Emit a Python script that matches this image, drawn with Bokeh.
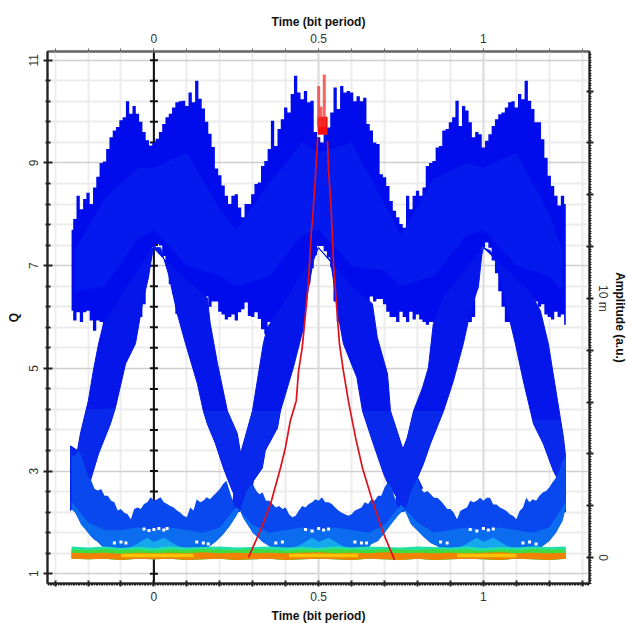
from bokeh.plotting import figure
from bokeh.models import Range1d, LinearAxis, FixedTicker, Grid
from bokeh.embed import file_html
from bokeh.resources import INLINE
import numpy as np

# ---- eye diagram envelopes (t in bit periods, Q) ----
rail_top = [7.7,7.91,8.36,8.1,8.3,8.42,8.2,8.52,8.73,9.0,
 9.03,9.27,9.5,9.63,9.7,9.83,9.89,10.2,9.96,10.11,
 9.96,9.8,9.6,9.44,9.34,9.4,9.47,9.6,9.76,9.89,
 9.96,10.08,10.18,10.2,10.21,10.11,10.37,10.18,10.6,10.25,
 10.06,9.8,9.57,9.31,8.89,8.76,8.56,8.36,8.2,8.36,
 8.39,8.13,7.94,8.2,8.2,8.39,8.59,8.62,8.94,9.04,
 9.27,9.82,9.33,9.66,9.85,10.08,9.98,10.34,10.7,10.37,
 10.24,10.4,10.18,10.21,9.6,9.5,9.4,9.56,9.69,9.98,
 10.47,10.05,10.5,10.37,10.4,10.37,10.2,10.3,10.2,10.27,
 9.76,9.63,9.4,9.37,8.78,8.72,8.55,8.26,8.07,7.94,
 7.81,7.74,8.36,8.1,8.36,8.46,8.36,8.52,8.94,9.0,
 9.04,9.3,9.33,9.63,9.66,9.79,9.89,10.21,9.72,10.11,
 10.02,9.79,9.5,9.6,9.56,9.3,9.43,9.56,9.72,9.85,
 9.95,9.98,10.08,10.18,10.2,10.08,10.34,10.24,10.6,10.21,
 10.05,9.79,9.79,9.46,9.1,8.75,8.55,8.36,8.17,8.36,8.2]
rail_bot = [6.12,5.93,6.09,5.9,6.09,6.12,5.93,5.73,5.93,5.9,
 5.8,5.9,5.9,5.9,5.9,5.9,5.9,5.9,5.9,5.9,
 5.95,6.0,6.25,6.77,7.19,7.36,7.42,7.39,7.19,7.03,
 6.64,6.45,6.06,6.0,6.0,6.0,6.0,6.0,6.0,6.0,
 6.0,6.4,6.2,6.3,6.3,6.1,6.05,5.95,6.0,6.05,
 5.93,6.09,6.15,6.28,6.02,6.0,6.09,5.96,5.76,5.67,
 5.9,5.9,5.9,5.9,5.9,5.9,5.9,5.9,5.9,5.9,
 5.9,6.2,6.65,6.95,7.2,7.38,7.38,7.28,7.16,6.97,
 6.3,5.9,5.9,5.9,5.9,5.9,5.9,5.9,5.9,5.9,
 6.3,6.4,6.3,6.35,6.35,6.25,6.1,6.0,6.0,5.9,
 6.1,6.0,5.9,6.1,5.95,6.05,5.95,5.9,5.85,5.9,
 5.9,5.9,5.9,5.9,5.9,5.9,5.9,5.9,5.9,5.9,
 5.9,5.9,6.0,6.55,7.15,7.35,7.45,7.35,7.1,6.85,
 6.5,6.2,5.9,5.9,5.9,5.9,5.9,5.9,5.9,6.4,
 6.35,6.3,6.2,6.25,6.05,6.0,5.95,6.1,6.0,6.05,5.85]

# slightly brighter core of the upper rail
glow_t = [-.24,-.15,-.05,0.0,.1,.2,.25,.35,.45,.5,.6,.7,.75,.85,.95,1.0,1.1,1.2,1.24]
glow_top = [7.3,8.3,8.9,8.9,9.2,8.1,7.7,8.6,9.4,9.2,9.4,8.2,7.6,8.7,9.0,8.9,9.2,8.0,7.3]
glow_bot = [6.5,6.6,7.5,7.7,7.0,6.8,6.6,6.8,7.6,7.7,7.0,6.9,6.6,6.8,7.6,7.7,7.0,6.8,6.5]

# the crossing traces (outlines: t, Q)
r1_t = [-.253,-.232,-.223,-.199,-.184,-.168,-.153,-.011,-.002,-.017,-.035,-.056,-.086,-.117,-.132,-.168,-.193,-.253]
r1_q = [3.49,3.40,3.73,4.37,4.95,5.48,5.87,7.29,7.35,6.76,6.26,5.48,5.09,4.23,3.92,3.34,2.81,2.23]
f1_t = [-.002,.02,.044,.071,.096,.132,.150,.162,.187,.211,.226,.263,.299,.263,.253,.223,.193,.171,.162,.05]
f1_q = [7.35,7.35,6.84,6.06,5.48,4.70,4.17,3.92,3.53,3.06,2.81,2.23,2.71,3.34,3.73,4.17,5.09,5.87,6.37,7.0]
r2_t = [.232,.263,.299,.332,.344,.399,.499,.484,.466,.454,.423,.384,.375,.338,.329,.302,.299,.263]
r2_q = [2.13,3.34,4.17,5.48,5.79,6.32,7.35,7.10,6.45,5.79,5.01,4.17,3.84,3.40,3.06,2.81,2.71,2.23]
f2_t = [.499,.536,.545,.557,.575,.616,.633,.666,.697,.709,.763,.79,.757,.718,.709,.678,.663,.60]
f2_q = [7.35,7.10,6.71,6.12,5.48,4.82,4.17,3.53,2.95,2.77,2.23,2.8,3.40,4.17,4.89,5.60,6.26,6.6]
r3_t = [.73,.754,.769,.788,.815,.833,.848,.88,1.0,.995,.985,.961,.939,.909,.879,.839,.818,.800,.815,.76]
r3_q = [2.2,3.40,3.65,4.17,4.62,5.01,5.87,6.4,7.35,7.2,6.6,6.12,5.48,4.76,4.17,3.53,3.14,2.87,2.67,2.23]
f3_t = [1.0,1.021,1.036,1.061,1.073,1.097,1.121,1.152,1.182,1.212,1.225,1.249,1.249,1.243,1.225,1.197,1.173,1.14]
f3_q = [7.35,7.29,7.10,6.5,6.12,5.48,4.76,3.92,3.53,3.01,2.85,2.2,3.30,3.65,4.37,5.48,6.12,6.5]

# their lower, brighter parts
low1_t = [-.253,-.232,-.223,-.204,-.117,-.132,-.168,-.193,-.253]
low1_q = [3.49,3.40,3.73,4.2,4.23,3.92,3.34,2.81,2.23]
low2_t = [.150,.162,.187,.211,.226,.263,.299,.263,.253,.223]
low2_q = [4.17,3.92,3.53,3.06,2.81,2.23,2.71,3.34,3.73,4.17]
low3_t = [.232,.263,.299,.384,.375,.338,.329,.302,.299,.263]
low3_q = [2.13,3.34,4.17,4.17,3.84,3.40,3.06,2.81,2.71,2.23]
low4_t = [.633,.666,.697,.709,.763,.79,.757,.718]
low4_q = [4.17,3.53,2.95,2.77,2.23,2.8,3.40,4.17]
low5_t = [.73,.754,.769,.788,.879,.839,.818,.800,.815,.76]
low5_q = [2.2,3.40,3.65,4.17,4.17,3.53,3.14,2.87,2.67,2.23]
low6_t = [1.15,1.182,1.212,1.225,1.249,1.249,1.243,1.23]
low6_q = [4.0,3.53,3.01,2.85,2.2,3.30,3.65,4.0]

# the arches above the low rail
arch_top = [3.3,3.3,3.4,3.3,3.1,2.9,
 2.81,2.65,2.62,2.65,2.52,2.52,2.42,2.39,2.23,2.26,2.19,2.16,2.06,2.26,2.29,2.26,2.36,2.39,2.49,2.42,2.45,
 2.49,2.39,2.36,2.32,2.29,2.23,2.19,2.13,2.10,2.29,2.23,2.45,2.39,2.42,2.49,2.45,2.52,2.58,2.65,2.75,2.81,
 2.6,2.4,2.2,2.2,2.4,2.6,2.7,2.75,
 2.62,2.55,2.58,2.42,2.42,2.36,2.29,2.32,2.26,2.29,2.16,2.10,2.13,2.23,2.32,2.29,2.36,2.39,2.45,2.42,2.49,
 2.39,2.39,2.36,2.29,2.23,2.19,2.16,2.13,2.16,2.23,2.26,2.29,2.39,2.36,2.45,2.42,2.52,2.52,2.68,2.78,
 2.7,2.5,2.3,2.2,2.2,2.4,2.6,2.75,
 2.87,2.65,2.58,2.61,2.55,2.48,2.48,2.42,2.35,2.26,2.26,2.19,2.06,2.22,2.26,2.29,2.42,2.39,2.42,2.48,2.42,
 2.48,2.48,2.35,2.35,2.29,2.26,2.22,2.16,2.13,2.06,2.22,2.29,2.48,2.39,2.45,2.42,2.52,2.58,2.61,2.68,2.78,2.87,
 3.0,3.2,3.3]
arch_bot_t = [-.25,-.24,-.23,-.22,-.21,-.20,-.19,-.18,-.17,-.16,-.15,-.13,.15,.17,.19,.21,.23,.25,.26,.27,.28,.29,.30,.31,.32,.33,.34,.35,.37,.64,.66,.68,.70,.72,.74,.76,.78,.80,.82,.84,.86,.88,1.16,1.18,1.20,1.22,1.24,1.25]
arch_bot_q = [2.25,2.2,2.08,1.95,1.88,1.8,1.72,1.66,1.62,1.55,1.5,1.42,1.42,1.54,1.64,1.77,1.93,2.13,2.26,2.1,2.0,1.9,1.8,1.74,1.68,1.62,1.58,1.54,1.42,1.42,1.58,1.64,1.8,1.97,2.13,2.26,1.97,1.84,1.71,1.6,1.54,1.42,1.42,1.54,1.64,1.8,2.03,2.29]
mid_t = [-.25,-.2,-.15,-.1,-.05,0,.05,.1,.15,.2,.25,.3,.35,.4,.45,.5,.55,.6,.65,.7,.75,.8,.85,.9,.95,1.0,1.05,1.1,1.15,1.2,1.25]
mid_q = [2.4,2.0,1.85,1.85,1.9,1.85,1.9,1.85,1.8,1.9,2.3,1.95,1.8,1.85,1.9,1.85,1.9,1.85,1.8,1.95,2.35,2.0,1.8,1.85,1.9,1.85,1.9,1.85,1.8,1.9,2.4]
cyan_t = [[-.11,-.06,-.02,0,.03,.07,.13],[.39,.44,.48,.5,.53,.57,.63],[.89,.94,.98,1.0,1.03,1.07,1.13]]
cyan_q = [[1.42,1.55,1.7,1.62,1.7,1.55,1.42],[1.42,1.55,1.7,1.62,1.7,1.55,1.42],[1.42,1.55,1.7,1.62,1.7,1.55,1.42]]
speck_t = [-.03,-.015,0,.015,.03,.04,.46,.48,.5,.515,.53,.96,.98,1.0,1.015,1.03,-.12,-.10,-.085,.13,.15,.165,.37,.39,.61,.63,.645,.87,.89,1.12,1.14,1.16]
speck_q = [1.87,1.84,1.86,1.88,1.85,1.88,1.86,1.83,1.88,1.85,1.87,1.86,1.83,1.88,1.85,1.87,1.6,1.62,1.6,1.62,1.6,1.58,1.6,1.62,1.62,1.6,1.6,1.62,1.6,1.6,1.62,1.58]

# the low rail
low_t = [-.25,-.2,-.15,-.1,-.05,0,.05,.1,.15,.2,.25,.3,.35,.4,.45,.5,.55,.6,.65,.7,.75,.8,.85,.9,.95,1.0,1.05,1.1,1.15,1.2,1.25]
teal_q = [1.53,1.51,1.53,1.50,1.52,1.50,1.53,1.51,1.52,1.53,1.51,1.52,1.53,1.51,1.52,1.50,1.53,1.51,1.53,1.52,1.51,1.53,1.52,1.51,1.53,1.50,1.52,1.51,1.53,1.52,1.53]
green_q = [1.47,1.46,1.48,1.46,1.47,1.45,1.47,1.46,1.48,1.47,1.46,1.48,1.47,1.45,1.47,1.46,1.48,1.47,1.46,1.48,1.47,1.46,1.48,1.46,1.47,1.45,1.47,1.46,1.48,1.47,1.47]
orange_q = [1.41,1.40,1.41,1.39,1.41,1.40,1.41,1.40,1.42,1.40,1.41,1.40,1.41,1.40,1.41,1.42,1.40,1.41,1.40,1.42,1.40,1.41,1.40,1.41,1.40,1.41,1.42,1.40,1.41,1.40,1.41]
floor_q = [1.29,1.28,1.29,1.27,1.29,1.28,1.29,1.27,1.28,1.29,1.27,1.28,1.29,1.27,1.28,1.29,1.28,1.27,1.29,1.28,1.27,1.29,1.27,1.28,1.29,1.28,1.27,1.29,1.28,1.27,1.29]
yellow_from = [-.10,.41,.92]
yellow_to = [.12,.62,1.10]
yellow_top = [1.39,1.39,1.39]
yellow_bot = [1.32,1.32,1.32]

# red trace
red_up_t = [.287,.323,.354,.384,.399,.414,.432,.439,.45,.46,.469,.475,.478,.481,.49,.497]
red_up_q = [1.32,1.84,2.36,3.06,3.45,3.98,4.37,4.95,5.40,6.06,6.71,7.35,7.68,7.87,8.71,9.49]
red_down_t = [.527,.53,.536,.542,.545,.554,.563,.575,.59,.612,.633,.663,.697,.73]
red_down_q = [9.43,8.85,8.32,7.54,7.04,6.26,5.48,4.95,4.37,3.65,3.06,2.42,1.78,1.27]
red_block_t = [.497,.527]
red_block_q = [9.55,9.9]
red_spike_t = [.50,.507,.517]
red_spike_q = [10.5,10.1,10.72]

q_major = [1,3,5,7,9,11]
q_minor = [1.4,1.8,2.2,2.6,3.4,3.8,4.2,4.6,5.4,5.8,6.2,6.6,7.4,7.8,8.2,8.6,9.4,9.8,10.2,10.6]
t_tenths = [-.3,-.2,-.1,0,.1,.2,.3,.4,.5,.6,.7,.8,.9,1,1.1,1.2,1.3]
t_major = [0,.5,1]
amp_ticks = [0,2,4,6,8,10,12,14,16,18]

p = figure(frame_width=542, frame_height=532, output_backend="svg", toolbar_location=None,
           x_range=Range1d(-.323, 1.322), y_range=Range1d(.81, 11.17),
           x_axis_location=None, y_axis_location=None,
           min_border_left=47, min_border_right=0, min_border_top=51, min_border_bottom=0)
p.background_fill_color = "white"
p.outline_line_color = "#555555"
p.outline_line_width = 2
p.xgrid.visible = False
p.ygrid.visible = False

minor_col = "#ececec"
major_col = "#cfcfcf"
p.add_layout(Grid(dimension=0, ticker=FixedTicker(ticks=t_tenths), grid_line_color=minor_col, grid_line_width=2))
p.add_layout(Grid(dimension=1, ticker=FixedTicker(ticks=q_minor), grid_line_color=minor_col, grid_line_width=2))
p.add_layout(Grid(dimension=1, ticker=FixedTicker(ticks=q_major), grid_line_color=major_col, grid_line_width=1.5))
p.add_layout(Grid(dimension=0, ticker=FixedTicker(ticks=t_major), grid_line_color="#dddddd", grid_line_width=2))

font = "Liberation Sans"
def style(ax, tick_col="#222222"):
    ax.axis_label_text_font = font
    ax.axis_label_text_font_style = "bold"
    ax.axis_label_text_font_size = "12px"
    ax.axis_label_text_color = "#111111"
    ax.major_label_text_font = font
    ax.major_label_text_font_size = "12px"
    ax.major_label_text_color = "#333333"
    ax.axis_line_color = tick_col
    ax.axis_line_width = 2
    ax.major_tick_line_color = tick_col
    ax.minor_tick_line_color = tick_col

left = LinearAxis(axis_label="Q", ticker=FixedTicker(ticks=q_major, minor_ticks=q_minor))
style(left)
left.major_label_orientation = "vertical"
left.major_tick_in, left.major_tick_out = 5, 4
left.minor_tick_in, left.minor_tick_out = 3, 2
left.major_tick_line_width = 2
left.minor_tick_line_width = 2
left.axis_label_standoff = 6
p.add_layout(left, "left")

top = LinearAxis(axis_label="Time (bit period)", ticker=FixedTicker(ticks=t_major, minor_ticks=t_tenths))
style(top, "#666666")
top.major_tick_in, top.major_tick_out = 0, 3
top.minor_tick_in, top.minor_tick_out = 0, 3
top.major_label_standoff = 6
top.axis_label_standoff = 2
p.add_layout(top, "above")

bottom = LinearAxis(axis_label="Time (bit period)",
                    ticker=FixedTicker(ticks=t_tenths, minor_ticks=[(k - 64) * .005 for k in range(329)]))
style(bottom)
bottom.major_label_overrides = {v: ("" if v not in t_major else str(v)) for v in t_tenths}
bottom.major_tick_in, bottom.major_tick_out = 3, 3
bottom.minor_tick_in, bottom.minor_tick_out = 0, 2
bottom.major_tick_line_width = 2
bottom.major_label_standoff = 5
bottom.axis_label_standoff = 5
p.add_layout(bottom, "below")

p.extra_y_ranges = {"amp": Range1d(-1.0, 19.53)}
right = LinearAxis(y_range_name="amp", axis_label="Amplitude (a.u.)",
                   ticker=FixedTicker(ticks=amp_ticks, minor_ticks=[k * .1 for k in range(-10, 195)]))
style(right)
right.major_label_overrides = {v: {0: "0", 10: "10 m"}.get(v, "") for v in amp_ticks}
right.major_label_orientation = "vertical"
right.major_tick_in, right.major_tick_out = 3, 4
right.minor_tick_in, right.minor_tick_out = 0, 2
right.major_tick_line_width = 2
right.major_label_standoff = 2
right.axis_label_standoff = 0
p.add_layout(right, "right")

# zero axis with its own ticks
p.segment(x0=[0], y0=[.81], x1=[0], y1=[11.17], line_color="#111111", line_width=2)
p.scatter(x=[0] * len(q_major + q_minor), y=q_major + q_minor, marker="dash", size=8,
          line_color="#111111", line_width=2)

# upper rail
rail_t = np.linspace(-.25, 1.25, len(rail_top))
band_col = "#0416ea"
p.varea_step(x=rail_t, y1=rail_bot, y2=rail_top, step_mode="center", fill_color="#000cec")
p.varea(x=glow_t, y1=glow_bot, y2=glow_top, fill_color="#0a2cf0", fill_alpha=.4)

# crossing traces
for xs, ys in [(r1_t, r1_q), (f1_t, f1_q), (r2_t, r2_q), (f2_t, f2_q), (r3_t, r3_q), (f3_t, f3_q)]:
    p.patch(xs, ys, fill_color=band_col, line_color=band_col, line_width=1)
for xs, ys in [(low1_t, low1_q), (low2_t, low2_q), (low3_t, low3_q), (low4_t, low4_q), (low5_t, low5_q), (low6_t, low6_q)]:
    p.patch(xs, ys, fill_color="#0828ec", line_color=None)

# arches
arch_t = np.linspace(-.25, 1.25, len(arch_top))
p.patch(list(arch_t) + arch_bot_t[::-1], arch_top + arch_bot_q[::-1], fill_color="#0848ee", line_color=None)
p.patch(mid_t + arch_bot_t[::-1], mid_q + arch_bot_q[::-1], fill_color="#0c6cf0", line_color=None)
for xs, ys in zip(cyan_t, cyan_q):
    p.patch(xs, ys, fill_color="#16a8ee", line_color=None)
p.scatter(x=speck_t, y=speck_q, marker="square", size=3, fill_color="white", line_color=None)

# low rail
p.varea(x=low_t, y1=floor_q, y2=teal_q, fill_color="#22e0a8")
p.varea(x=low_t, y1=floor_q, y2=green_q, fill_color="#3edc40")
p.varea(x=low_t, y1=floor_q, y2=orange_q, fill_color="#f08200")
p.quad(left=yellow_from, right=yellow_to, top=yellow_top, bottom=yellow_bot, fill_color="#f8c400", line_color=None)

# red trace
p.line(red_up_t, red_up_q, line_color="#e0101c", line_width=1.7)
p.line(red_down_t, red_down_q, line_color="#e0101c", line_width=1.7)
p.quad(left=red_block_t[:1], right=red_block_t[1:], bottom=red_block_q[:1], top=red_block_q[1:],
       fill_color="#f50f0f", line_color=None)
p.segment(x0=red_spike_t, y0=[9.7, 9.7, 9.7], x1=red_spike_t, y1=red_spike_q,
          line_color="#f53030", line_width=3, line_alpha=.75)

open("out.html", "w").write(file_html(p, INLINE))
